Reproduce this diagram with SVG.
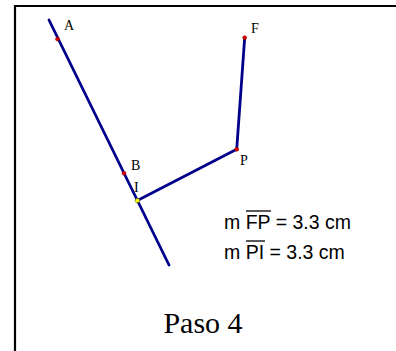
<svg xmlns="http://www.w3.org/2000/svg" width="396" height="351" viewBox="0 0 396 351">
<style>
.seg{stroke:#00008b;stroke-width:2.8;fill:none;stroke-linecap:round}
.pt{fill:#e00000;stroke:#800000;stroke-width:0.5}
.lbl{font-family:"Liberation Serif",serif;font-size:14px;fill:#000}
.meas{font-family:"Liberation Sans",Arial,sans-serif;font-size:19.5px;fill:#000}
.bar{stroke:#000;stroke-width:1.3}
</style>
<rect x="0" y="0" width="396" height="351" fill="#fff"/>
<g id="frame">
<line x1="15" y1="6" x2="396" y2="6" stroke="#000" stroke-width="2"/>
<line x1="15" y1="5" x2="15" y2="351" stroke="#000" stroke-width="2.2"/>
</g>
<g id="connectors">
<line class="seg" x1="49" y1="20" x2="169" y2="265"/>
<line class="seg" x1="137.4" y1="200.6" x2="236.7" y2="149.3"/>
<line class="seg" x1="236.7" y1="149.3" x2="244.7" y2="37.7"/>
</g>
<g id="A"><circle class="pt" cx="57.5" cy="39" r="2"/><text class="lbl" x="64" y="30">A</text></g>
<g id="B"><circle class="pt" cx="124" cy="173.3" r="2"/><text class="lbl" x="131" y="170">B</text></g>
<g id="I"><circle cx="137.4" cy="200.6" r="2.2" fill="#ffff00" stroke="#606000" stroke-width="0.6"/><text class="lbl" x="134" y="192">I</text></g>
<g id="P"><circle class="pt" cx="236.7" cy="149.3" r="2"/><text class="lbl" x="240" y="165">P</text></g>
<g id="F"><circle class="pt" cx="244.7" cy="37.7" r="2"/><text class="lbl" x="251" y="33">F</text></g>
<g id="measures">
<text class="meas" x="224" y="229">m FP = 3.3 cm</text>
<line class="bar" x1="246" y1="211" x2="271" y2="211"/>
<text class="meas" x="224" y="259">m PI = 3.3 cm</text>
<line class="bar" x1="246" y1="241" x2="265" y2="241"/>
</g>
<g id="caption">
<text x="203" y="333" text-anchor="middle" font-family="Liberation Serif,serif" font-size="30px">Paso 4</text>
</g>
</svg>
